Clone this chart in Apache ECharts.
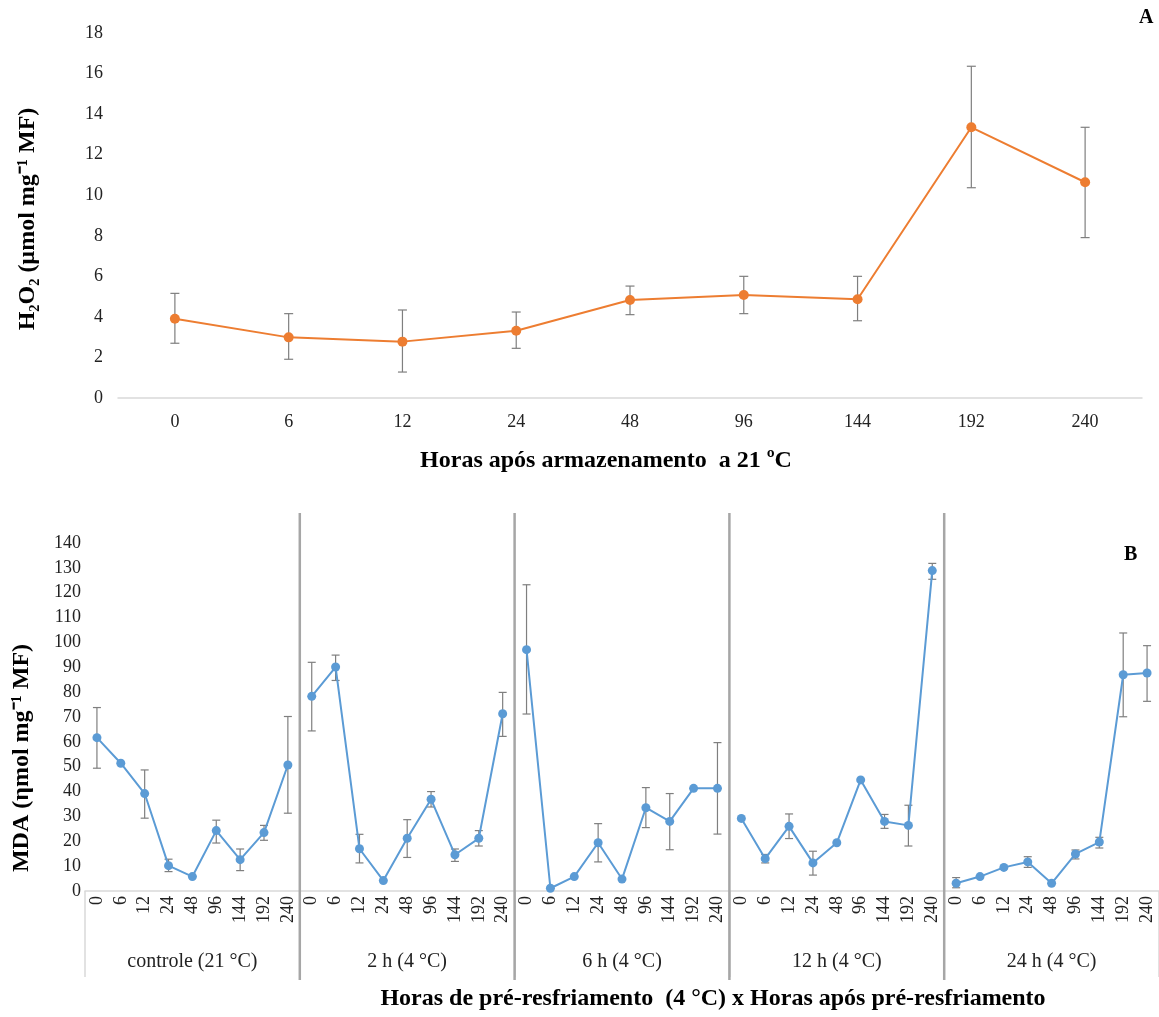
<!DOCTYPE html>
<html><head><meta charset="utf-8">
<script src="https://cdn.jsdelivr.net/npm/echarts@6/dist/echarts.min.js"></script>
<style>html,body{margin:0;padding:0;background:#fff}#c{width:1159px;height:1017px}</style>
</head><body><div id="c"></div>
<script>
// ---- Panel A data ----
const hoursA = ['0','6','12','24','48','96','144','192','240'];
const h2o2 = [3.91, 2.99, 2.78, 3.32, 4.83, 5.08, 4.87, 13.35, 10.64];
const h2o2Low = [2.70, 1.91, 1.28, 2.45, 4.11, 4.16, 3.81, 10.37, 7.91];
const h2o2High = [5.16, 4.16, 4.34, 4.24, 5.52, 6.00, 6.00, 16.36, 13.35];
const yTicksA = [0, 18, 2];

// ---- Panel B data ----
const groupsB = ['controle (21 °C)', '2 h (4 °C)', '6 h (4 °C)', '12 h (4 °C)', '24 h (4 °C)'];
const hoursB = ['0','6','12','24','48','96','144','192','240'];
const mdaControle = [61.7, 51.4, 39.2, 10.2, 5.8, 24.3, 12.6, 23.5, 50.7];
const mdaControleLow = [49.4, null, 29.3, 7.8, null, 19.3, 8.2, 20.4, 31.3];
const mdaControleHigh = [73.8, null, 48.7, 12.8, null, 28.5, 16.9, 26.4, 70.2];
const mda2h = [78.3, 90.1, 17.0, 4.2, 21.2, 36.9, 14.6, 21.2, 71.3];
const mda2hLow = [64.4, 84.7, 11.3, null, 13.5, 33.8, 11.9, 18.1, 62.2];
const mda2hHigh = [92.0, 94.9, 22.8, null, 28.7, 40.0, 16.9, 24.3, 79.9];
const mda6h = [97.1, 1.1, 5.8, 19.4, 4.8, 33.5, 28.0, 41.3, 41.3];
const mda6hLow = [71.2, null, null, 11.7, null, 25.5, 16.6, null, 22.9];
const mda6hHigh = [123.2, null, null, 27.1, null, 41.6, 39.2, null, 59.7];
const mda12h = [29.2, 13.0, 26.0, 11.3, 19.4, 44.7, 28.0, 26.4, 128.9];
const mda12hLow = [null, 11.3, 21.1, 6.4, null, null, 25.2, 18.1, 125.4];
const mda12hHigh = [null, 14.7, 31.0, 16.0, null, null, 30.8, 34.5, 131.8];
const mda24h = [3.1, 5.8, 9.5, 11.7, 3.1, 14.9, 19.7, 87.0, 87.7];
const mda24hLow = [1.3, null, null, 9.5, null, 12.9, 17.3, 70.1, 76.3];
const mda24hHigh = [5.4, null, null, 13.8, null, 16.5, 21.6, 103.8, 98.7];
const yTicksB = [0, 140, 10];

// ---- build ----
const FONT = '"Liberation Serif","Times New Roman",serif';
const ORANGE = '#ED7D31', BLUE = '#5B9BD5', ERR = '#7f7f7f';

const mdaVals = [mdaControle, mda2h, mda6h, mda12h, mda24h];
const mdaLows = [mdaControleLow, mda2hLow, mda6hLow, mda12hLow, mda24hLow];
const mdaHighs = [mdaControleHigh, mda2hHigh, mda6hHigh, mda12hHigh, mda24hHigh];
const nH = hoursB.length;
const catsB = [];
groupsB.forEach(() => hoursB.forEach(h => catsB.push(h)));

function errRender(cap) {
  return function (params, api) {
    const x = api.value(0), lo = api.value(1), hi = api.value(2);
    const a = api.coord([x, lo]), b = api.coord([x, hi]);
    const st = { stroke: ERR, lineWidth: 1.2 };
    return { type: 'group', children: [
      { type: 'line', shape: { x1: a[0], y1: a[1], x2: b[0], y2: b[1] }, style: st },
      { type: 'line', shape: { x1: a[0] - cap, y1: a[1], x2: a[0] + cap, y2: a[1] }, style: st },
      { type: 'line', shape: { x1: b[0] - cap, y1: b[1], x2: b[0] + cap, y2: b[1] }, style: st }
    ]};
  };
}

const errA = h2o2.map((v, i) => [i, h2o2Low[i], h2o2High[i]]);
const errB = [];
mdaVals.forEach((g, gi) => g.forEach((v, i) => {
  if (mdaLows[gi][i] != null) errB.push([gi * nH + i, mdaLows[gi][i], mdaHighs[gi][i]]);
}));

const lineSeriesB = mdaVals.map((g, gi) => ({
  type: 'line', xAxisIndex: 1, yAxisIndex: 1,
  data: g.map((v, i) => [gi * nH + i, v]),
  symbol: 'circle', symbolSize: 9,
  itemStyle: { color: BLUE }, lineStyle: { color: BLUE, width: 2 },
  z: 5, animation: false
}));

const sepData = groupsB.slice(1).map((g, i) => [(i + 1) * nH - 1]);

const chart = echarts.init(document.getElementById('c'), null, { renderer: 'canvas' });
chart.setOption({
  animation: false,
  textStyle: { fontFamily: FONT },
  grid: [
    { left: 118, right: 17, top: 33, height: 365 },
    { left: 85, right: 0, top: 543, height: 348 }
  ],
  xAxis: [
    { type: 'category', gridIndex: 0, data: hoursA, boundaryGap: true,
      axisLine: { lineStyle: { color: '#d9d9d9', width: 1.5 } }, axisTick: { show: false },
      axisLabel: { color: '#222', fontSize: 18, fontFamily: FONT, margin: 15 } },
    { type: 'category', gridIndex: 1, data: catsB, boundaryGap: true,
      axisLine: { lineStyle: { color: '#d9d9d9', width: 1.5 } }, axisTick: { show: false },
      axisLabel: { color: '#222', fontSize: 18, fontFamily: FONT, rotate: 90, margin: 5, interval: 0 } },
    { type: 'category', gridIndex: 1, data: groupsB, boundaryGap: true, position: 'bottom',
      axisLine: { show: false },
      axisTick: { show: true, length: 86, lineStyle: { color: '#d9d9d9', width: 1.5 } },
      axisLabel: { color: '#222', fontSize: 20, fontFamily: FONT, margin: 61, interval: 0 } }
  ],
  yAxis: [
    { type: 'value', gridIndex: 0, min: yTicksA[0], max: yTicksA[1], interval: yTicksA[2],
      axisLine: { show: false }, axisTick: { show: false }, splitLine: { show: false },
      axisLabel: { color: '#222', fontSize: 18, fontFamily: FONT, margin: 15 } },
    { type: 'value', gridIndex: 1, min: yTicksB[0], max: yTicksB[1], interval: yTicksB[2],
      axisLine: { show: false }, axisTick: { show: false }, splitLine: { show: false },
      axisLabel: { color: '#222', fontSize: 18, fontFamily: FONT, margin: 4 } }
  ],
  series: [
    { type: 'custom', xAxisIndex: 0, yAxisIndex: 0, data: errA, renderItem: errRender(4.5),
      encode: { x: 0, y: [1, 2] }, z: 3, silent: true },
    { type: 'line', xAxisIndex: 0, yAxisIndex: 0, data: h2o2, symbol: 'circle', symbolSize: 10,
      itemStyle: { color: ORANGE }, lineStyle: { color: ORANGE, width: 2 }, z: 5 },
    { type: 'custom', xAxisIndex: 1, yAxisIndex: 1, data: errB, renderItem: errRender(4),
      encode: { x: 0, y: [1, 2] }, z: 3, silent: true },
    ...lineSeriesB,
    { type: 'custom', xAxisIndex: 1, yAxisIndex: 1, data: sepData, clip: false, silent: true, z: 2,
      encode: { x: 0 },
      renderItem: function (params, api) {
        const i = api.value(0);
        const x = (api.coord([i, 0])[0] + api.coord([i + 1, 0])[0]) / 2;
        const cs = params.coordSys;
        return { type: 'line', shape: { x1: x, y1: cs.y - 30, x2: x, y2: cs.y + cs.height + 89 },
          style: { stroke: '#a6a6a6', lineWidth: 2.5 } };
      } }
  ],
  graphic: [
    { type: 'text', left: 1139, top: 8, style: { text: 'A', font: 'bold 20px ' + FONT, fill: '#000' } },
    { type: 'text', left: 1124, top: 545, style: { text: 'B', font: 'bold 20px ' + FONT, fill: '#000' } },
    { type: 'text', x: 606, y: 461, style: { text: 'Horas após armazenamento  a 21 ºC', font: 'bold 24px ' + FONT, fill: '#000', align: 'center', verticalAlign: 'middle' } },
    { type: 'text', x: 28, y: 219, rotation: Math.PI / 2, style: { text: 'H₂O₂ (µmol mg⁻¹ MF)', font: 'bold 24px ' + FONT, fill: '#000', align: 'center', verticalAlign: 'middle' } },
    { type: 'text', x: 22, y: 758, rotation: Math.PI / 2, style: { text: 'MDA (ηmol mg⁻¹ MF)', font: 'bold 24px ' + FONT, fill: '#000', align: 'center', verticalAlign: 'middle' } },
    { type: 'text', x: 713, y: 999, style: { text: 'Horas de pré-resfriamento  (4 °C) x Horas após pré-resfriamento', font: 'bold 24px ' + FONT, fill: '#000', align: 'center', verticalAlign: 'middle' } }
  ]
});
</script></body></html>
